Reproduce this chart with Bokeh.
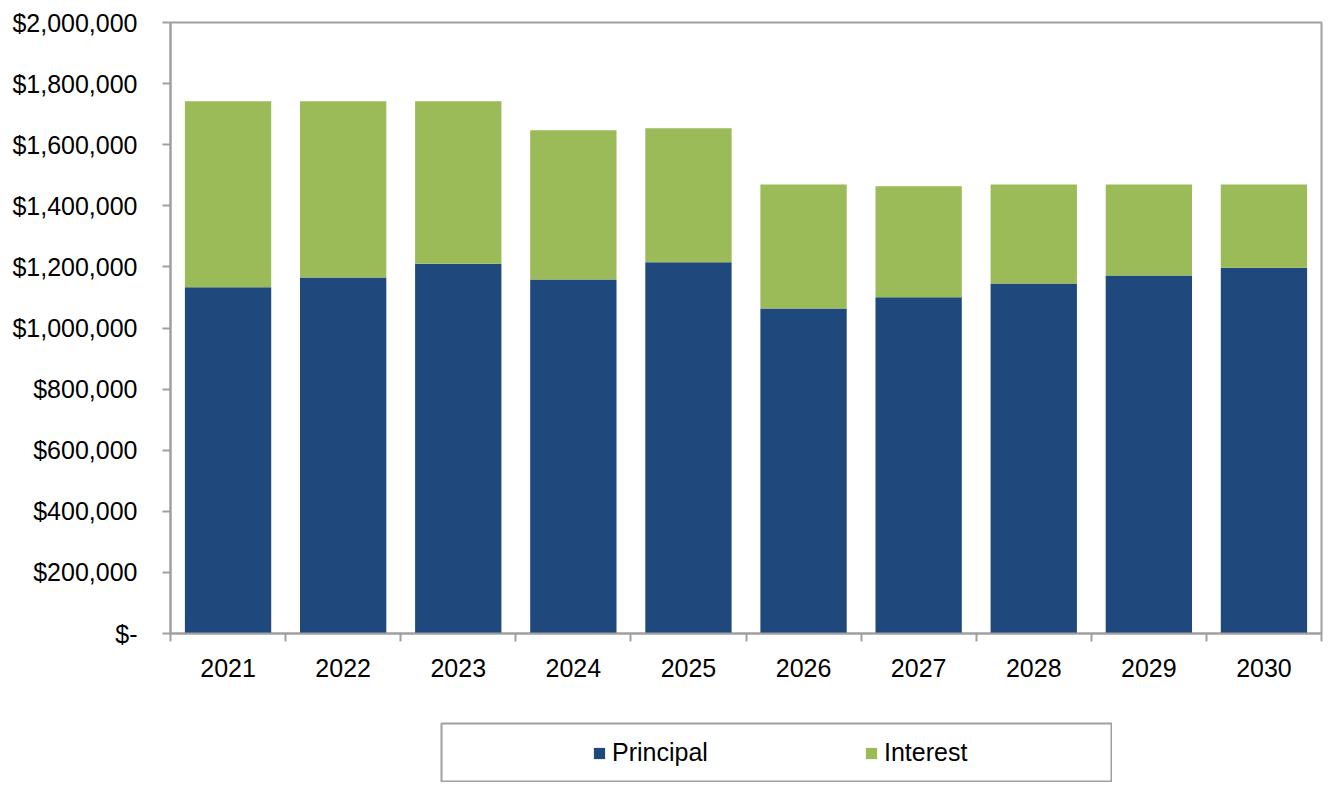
from bokeh.plotting import figure
from bokeh.models import (Range1d, FixedTicker, CustomJSTickFormatter, ColumnDataSource,
                          Legend, LegendItem, Div)
from bokeh.layouts import column, row
from bokeh.embed import file_html
from bokeh.resources import INLINE

years = ["2021", "2022", "2023", "2024", "2025", "2026", "2027", "2028", "2029", "2030"]
principal = [1133000, 1165000, 1210000, 1159000, 1215000, 1064000, 1101000, 1146000, 1172000, 1197000]
interest = [609000, 577000, 532000, 488000, 439000, 406000, 363000, 324000, 298000, 273000]
y_ticks = [0, 200000, 400000, 600000, 800000, 1000000, 1200000, 1400000, 1600000, 1800000, 2000000]

BLUE = "#1F497D"
GREEN = "#9BBB59"
GRAY = "#A0A0A0"
FONT = "Liberation Sans"

xpos = list(range(1, len(years) + 1))
src = ColumnDataSource(dict(x=xpos, principal=principal, interest=interest))

p = figure(frame_width=1151, frame_height=611,
           min_border_left=170, min_border_top=22, min_border_bottom=89, min_border_right=2,
           x_range=Range1d(0.5, len(years) + 0.5), y_range=Range1d(0, 2000000),
           output_backend="svg", toolbar_location=None)

renderers = p.vbar_stack(["principal", "interest"], x="x", width=0.75, source=src,
                         color=[BLUE, GREEN], line_color=None)

p.xgrid.visible = False
p.ygrid.visible = False
p.outline_line_color = GRAY
p.outline_line_width = 2
p.background_fill_color = "white"
p.border_fill_color = "white"

# y axis
p.yaxis.ticker = FixedTicker(ticks=y_ticks, minor_ticks=[])
p.yaxis.formatter = CustomJSTickFormatter(code="""
    if (tick == 0) { return "$-"; }
    return "$" + Math.round(tick).toLocaleString("en-US");
""")
p.yaxis.axis_line_color = GRAY
p.yaxis.axis_line_width = 2
p.yaxis.major_tick_line_color = GRAY
p.yaxis.major_tick_line_width = 2
p.yaxis.major_tick_in = 0
p.yaxis.major_tick_out = 8
p.yaxis.minor_tick_line_color = None
p.yaxis.major_label_standoff = 25
p.yaxis.major_label_text_font = FONT
p.yaxis.major_label_text_font_size = "25px"
p.yaxis.major_label_text_color = "black"

# x axis: labels at centers, ticks at boundaries
bounds = [i + 0.5 for i in range(0, len(years) + 1)]
p.xaxis.ticker = FixedTicker(ticks=xpos, minor_ticks=bounds)
p.xaxis.major_label_overrides = {x: y for x, y in zip(xpos, years)}
p.xaxis.axis_line_color = GRAY
p.xaxis.axis_line_width = 2
p.xaxis.major_tick_line_color = None
p.xaxis.major_tick_in = 0
p.xaxis.major_tick_out = 0
p.xaxis.minor_tick_line_color = GRAY
p.xaxis.minor_tick_line_width = 2
p.xaxis.minor_tick_in = 0
p.xaxis.minor_tick_out = 8
p.xaxis.major_label_standoff = 17
p.xaxis.major_label_text_font = FONT
p.xaxis.major_label_text_font_size = "25px"
p.xaxis.major_label_text_color = "black"

# legend panel
lf = figure(width=672, height=60, min_border=1, x_axis_type=None, y_axis_type=None,
            x_range=Range1d(0, 1), y_range=Range1d(0, 1),
            output_backend="svg", toolbar_location=None)
lf.xgrid.visible = False
lf.ygrid.visible = False
lf.outline_line_color = GRAY
lf.outline_line_width = 2
hidden = ColumnDataSource(dict(x=[5], y=[5]))
r1 = lf.rect(x="x", y="y", width=0.1, height=0.1, source=hidden, fill_color=BLUE, line_color=None)
r2 = lf.rect(x="x", y="y", width=0.1, height=0.1, source=hidden, fill_color=GREEN, line_color=None)
legend = Legend(items=[LegendItem(label="Principal", renderers=[r1]),
                       LegendItem(label="Interest", renderers=[r2])],
                orientation="horizontal", location=(151, 14),
                padding=0, margin=0, spacing=132, label_width=120,
                glyph_width=14, glyph_height=14, label_standoff=6,
                label_text_font=FONT, label_text_font_size="25px", label_text_color="black",
                border_line_alpha=0, background_fill_alpha=0)
lf.add_layout(legend, "center")

spacer = Div(text="", width=440, height=60, margin=0)
layout = column(p, row(spacer, lf))

open("out.html", "w").write(file_html(layout, INLINE))
